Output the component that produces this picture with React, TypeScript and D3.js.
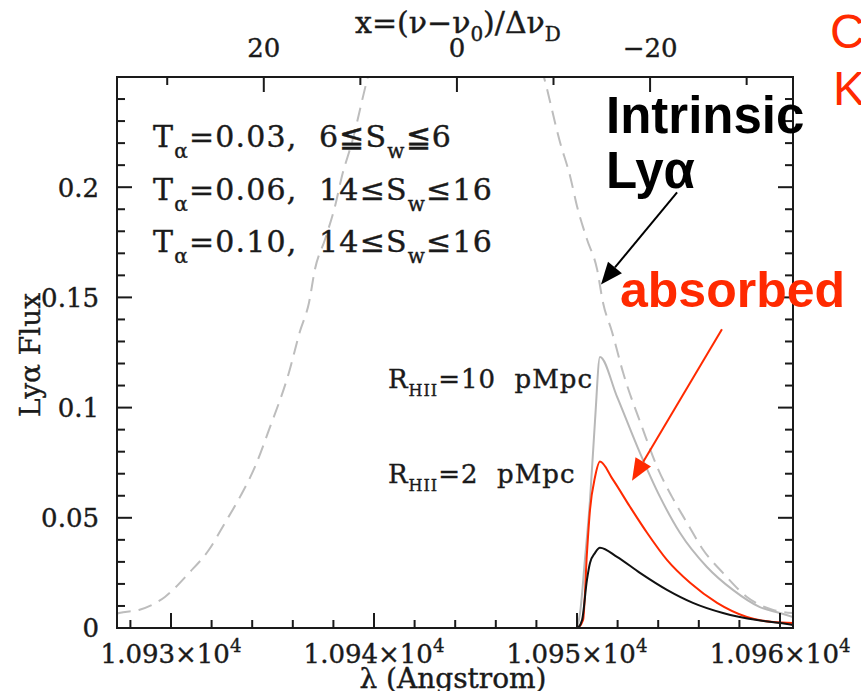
import * as d3 from 'd3';

// wavelength (Angstrom) and Lya flux
const INTRINSIC_LAMBDA = [
  10927.34, 10927.44, 10928.42, 10929.7, 10930.89, 10931.87, 10932.66, 10933.4, 10934.14, 10934.83,
  10935.81, 10936.35, 10936.8, 10937.09, 10937.59, 10938.08, 10938.42, 10938.92, 10939.7, 10941.28,
  10942.76, 10944.04, 10945.32, 10946.8, 10948.37, 10949.16, 10949.66, 10950.0, 10950.49, 10950.99,
  10951.28, 10951.72, 10952.27, 10953.25, 10953.94, 10954.68, 10955.42, 10956.21, 10957.19, 10958.37,
  10959.66, 10960.64,
];
const INTRINSIC_FLUX = [
  0.0064, 0.0068, 0.0082, 0.0141, 0.025, 0.0355, 0.0477, 0.0595, 0.0732, 0.09,
  0.1159, 0.1345, 0.1477, 0.1627, 0.1764, 0.1914, 0.205, 0.2205, 0.25, 0.29,
  0.32, 0.33, 0.32, 0.29, 0.25, 0.2205, 0.205, 0.1914, 0.1764, 0.1627,
  0.1477, 0.1345, 0.1159, 0.09, 0.0732, 0.0595, 0.0477, 0.0355, 0.025, 0.0141,
  0.0082, 0.0068,
];

const R10_LAMBDA = [10950.0, 10950.15, 10950.39, 10950.64, 10950.89, 10951.13, 10951.97, 10953.1, 10954.09, 10955.07, 10956.4, 10957.68, 10959.01, 10960.0, 10960.64];
const R10_FLUX = [0.0, 0.0068, 0.031, 0.058, 0.0945, 0.123, 0.105, 0.0795, 0.0595, 0.0432, 0.0277, 0.0173, 0.0095, 0.0068, 0.005];

const R2_LAMBDA = [10950.05, 10950.3, 10950.49, 10950.64, 10950.89, 10951.13, 10951.77, 10952.61, 10953.45, 10954.43, 10955.57, 10956.9, 10958.37, 10959.66, 10960.64];
const R2_FLUX = [0.0, 0.0036, 0.0341, 0.0536, 0.0686, 0.0755, 0.0673, 0.055, 0.0432, 0.0309, 0.0205, 0.0114, 0.005, 0.0027, 0.0023];

const BLACK_LAMBDA = [10950.05, 10950.25, 10950.49, 10950.64, 10950.89, 10951.13, 10951.97, 10953.1, 10954.43, 10955.71, 10957.19, 10958.87, 10960.0, 10960.64];
const BLACK_FLUX = [0.0, 0.0036, 0.0218, 0.0295, 0.0341, 0.0364, 0.0323, 0.025, 0.0173, 0.0114, 0.0068, 0.0036, 0.0023, 0.0014];

const X_TICKS = [10930, 10940, 10950, 10960];
const X_TICK_LABELS = ['1.093', '1.094', '1.095', '1.096'];
const Y_TICKS = [0, 0.05, 0.1, 0.15, 0.2];
const Y_TICK_LABELS = ['0', '0.05', '0.1', '0.15', '0.2'];
const TOP_TICKS = [20, 0, -20];
const TOP_TICK_LABELS = ['20', '0', '\u221220'];
const TOP_MINOR = [30, 10, -10, -30];

const LEGEND_TAU = ['0.03', '0.06', '0.10'];
const LEGEND_SW = [['6', '6'], ['14', '16'], ['14', '16']];
const LEGEND_LE = ['≦', '≤', '≤'];

// arrows: [lambda, flux] from -> to
const BLACK_ARROW = [[10954.93, 0.1977], [10951.18, 0.1559]];
const RED_ARROW = [[10957.14, 0.1355], [10952.71, 0.0668]];

const W = 861;
const H = 691;
const L = 117, R = 793, T = 77, B = 628;
const SERIF = '"DejaVu Serif", serif';
const SANS = '"Liberation Sans", Arial, sans-serif';
const RED = '#ff2a00';
const INK = '#1a1a1a';
const SP = '\u00a0';

const x = d3.scaleLinear().domain([10927.34, 10960.64]).range([L, R]);
const y = d3.scaleLinear().domain([0, 0.25]).range([B, T]);
const xTop = d3.scaleLinear().domain([35.2, -34.8]).range([L, R]);

const zip = (a: number[], b: number[]) => a.map((v, i) => [v, b[i]] as [number, number]);
const line = d3.line<[number, number]>()
  .x(d => x(d[0]))
  .y(d => y(d[1]))
  .curve(d3.curveMonotoneX);

const Arrow = ({ pts, color }: { pts: number[][]; color: string }) => {
  const x1 = x(pts[0][0]), y1 = y(pts[0][1]);
  const x2 = x(pts[1][0]), y2 = y(pts[1][1]);
  const len = Math.hypot(x2 - x1, y2 - y1);
  const ux = (x2 - x1) / len, uy = (y2 - y1) / len;
  const hl = 22, hw = 9;
  const bx = x2 - ux * hl, by = y2 - uy * hl;
  const head = [[x2, y2], [bx - uy * hw, by + ux * hw], [bx + uy * hw, by - ux * hw]];
  return (
    <g>
      <line x1={x1} y1={y1} x2={bx} y2={by} stroke={color} strokeWidth={2} />
      <polygon points={head.map(p => p.join(',')).join(' ')} fill={color} />
    </g>
  );
};

export default function App() {
  const xMinor = d3.range(10928, 10961, 2).filter(v => v % 10 !== 0);
  const yMinor = d3.range(1, 26).map(v => v / 100).filter(v => Math.round(v * 100) % 5 !== 0);

  return (
    <svg width={W} height={H} style={{ position: 'absolute', left: 0, top: 0, background: '#fff' }}>
      <defs>
        <clipPath id="plot">
          <rect x={L} y={T} width={R - L} height={B - T} />
        </clipPath>
      </defs>

      {/* curves */}
      <g clipPath="url(#plot)" fill="none" strokeLinejoin="round">
        <path d={line(zip(INTRINSIC_LAMBDA, INTRINSIC_FLUX)) || ''} stroke="#bdbdbd" strokeWidth={2} strokeDasharray="14,8" />
        <path d={line(zip(R10_LAMBDA, R10_FLUX)) || ''} stroke="#b8b8b8" strokeWidth={2} />
        <path d={line(zip(R2_LAMBDA, R2_FLUX)) || ''} stroke={RED} strokeWidth={2} />
        <path d={line(zip(BLACK_LAMBDA, BLACK_FLUX)) || ''} stroke="#111" strokeWidth={2} />
      </g>

      {/* frame */}
      <rect x={L} y={T} width={R - L} height={B - T} fill="none" stroke={INK} strokeWidth={2} />

      {/* ticks */}
      <g stroke={INK} strokeWidth={2}>
        {X_TICKS.map(v => <line key={'xb' + v} x1={x(v)} x2={x(v)} y1={B} y2={B - 15} />)}
        {xMinor.map(v => <line key={'xm' + v} x1={x(v)} x2={x(v)} y1={B} y2={B - 8} />)}
        {TOP_TICKS.map(v => <line key={'xt' + v} x1={xTop(v)} x2={xTop(v)} y1={T} y2={T + 15} />)}
        {TOP_MINOR.map(v => <line key={'xtm' + v} x1={xTop(v)} x2={xTop(v)} y1={T} y2={T + 8} />)}
        {Y_TICKS.map(v => (
          <g key={'y' + v}>
            <line x1={L} x2={L + 15} y1={y(v)} y2={y(v)} />
            <line x1={R} x2={R - 15} y1={y(v)} y2={y(v)} />
          </g>
        ))}
        {yMinor.map(v => (
          <g key={'ym' + v}>
            <line x1={L} x2={L + 8} y1={y(v)} y2={y(v)} />
            <line x1={R} x2={R - 8} y1={y(v)} y2={y(v)} />
          </g>
        ))}
      </g>

      {/* tick labels and axis titles */}
      <g fontFamily={SERIF} fill={INK} stroke={INK} strokeWidth={0.4}>
        {X_TICKS.map((v, i) => (
          <text key={'xl' + v} x={x(v)} y={663} fontSize={26} textAnchor="middle">
            {X_TICK_LABELS[i]}×10<tspan fontSize={18} dy={-11}>4</tspan>
          </text>
        ))}
        {Y_TICKS.map((v, i) => (
          <text key={'yl' + v} x={99} y={y(v)} dy="0.36em" fontSize={26} textAnchor="end">
            {Y_TICK_LABELS[i]}
          </text>
        ))}
        {TOP_TICKS.map((v, i) => (
          <text key={'tl' + v} x={xTop(v)} y={57} fontSize={26} textAnchor="middle">
            {TOP_TICK_LABELS[i]}
          </text>
        ))}
        <text x={355} y={33} fontSize={30}>
          x=(ν−ν<tspan fontSize={20} dy={8}>0</tspan><tspan dy={-8}>)/Δν</tspan><tspan fontSize={20} dy={8}>D</tspan>
        </text>
        <text x={453} y={688} fontSize={28} textAnchor="middle">λ (Angstrom)</text>
        <text transform="translate(40,355) rotate(-90)" fontSize={28} textAnchor="middle">Lyα Flux</text>
      </g>

      {/* legend */}
      <g fontFamily={SERIF} fill={INK} stroke={INK} strokeWidth={0.4} fontSize={30} letterSpacing={1.2}>
        {LEGEND_TAU.map((t, i) => (
          <text key={t + i} x={153} y={147 + i * 52.5}>
            T<tspan fontSize={20} dy={11}>α</tspan>
            <tspan dy={-11}>{`=${t},${SP}${SP}${LEGEND_SW[i][0]}${LEGEND_LE[i]}S`}</tspan>
            <tspan fontSize={20} dy={11}>w</tspan>
            <tspan dy={-11}>{`${LEGEND_LE[i]}${LEGEND_SW[i][1]}`}</tspan>
          </text>
        ))}
      </g>
      <g fontFamily={SERIF} fill={INK} stroke={INK} strokeWidth={0.4} fontSize={26} letterSpacing={1}>
        <text x={388} y={388}>
          R<tspan fontSize={16} dy={8}>HII</tspan><tspan dy={-8}>{`=10${SP}${SP}pMpc`}</tspan>
        </text>
        <text x={388} y={483}>
          R<tspan fontSize={16} dy={8}>HII</tspan><tspan dy={-8}>{`=2${SP}${SP}pMpc`}</tspan>
        </text>
      </g>

      {/* annotations */}
      <Arrow pts={BLACK_ARROW} color="#000" />
      <Arrow pts={RED_ARROW} color={RED} />
      <g fontFamily={SANS} fontWeight="bold" fontSize={51}>
        <text x={606} y={133} fill="#000">Intrinsic</text>
        <text x={606} y={188} fill="#000">Lyα</text>
        <text x={620} y={307} fill={RED} fontSize={50}>absorbed</text>
      </g>
      <g fontFamily={SANS} fontSize={48} fill={RED}>
        <text x={830} y={48}>C</text>
        <text x={833} y={105}>K</text>
      </g>
    </svg>
  );
}
